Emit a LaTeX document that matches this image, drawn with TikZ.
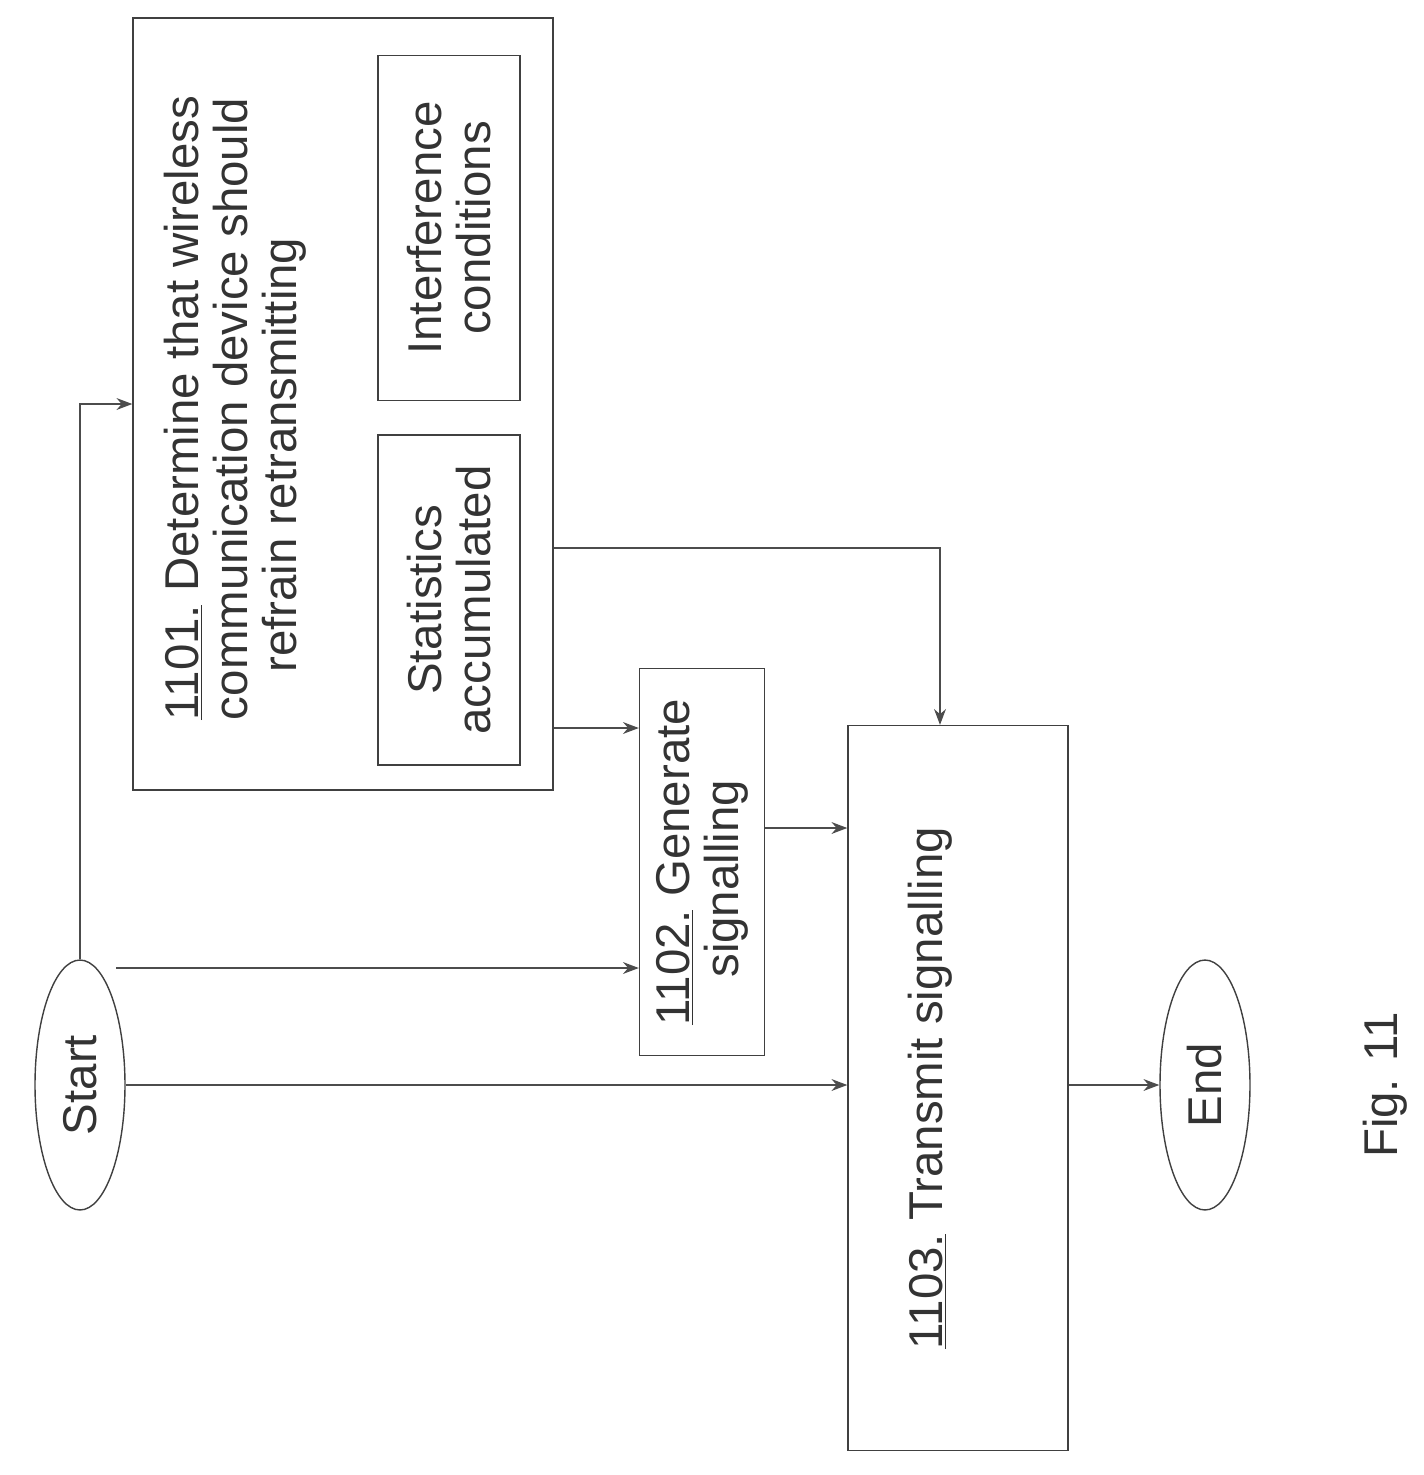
\documentclass[tikz,border=0pt]{standalone}
\usepackage{fontspec}
\setmainfont{Liberation Sans}
\usetikzlibrary{calc,shapes.geometric,arrows.meta}
\begin{document}
\begin{tikzpicture}[x=0.02cm,y=-0.02cm,
    box/.style={draw,rectangle,thick,draw=black!75},
    term/.style={draw,ellipse,thick,draw=black!75,minimum width=1.8cm,minimum height=5cm},
    txt/.style={rotate=90,align=left,font=\fontsize{27}{28}\selectfont,text=black!80},
    line/.style={thick,draw=black!70,-{Stealth[length=9pt]}}]
\useasboundingbox (0,0) rectangle (1424,1475);
\node[box,minimum width=8.4cm,minimum height=15.44cm] (b1101) at (343,404) {};
\node[box,minimum width=2.84cm,minimum height=6.6cm] (stat) at (449,600) {};
\node[box,minimum width=2.84cm,minimum height=6.9cm] (intf) at (449,228) {};
\node[box,minimum width=2.5cm,minimum height=7.74cm] (b1102) at (702,862) {};
\node[box,minimum width=4.4cm,minimum height=14.5cm] (b1103) at (958,1088) {};
\node[term] (start) at (80,1085) {};
\node[term] (end) at (1205,1085) {};
% texts
\node[txt] at (235,408) {\underline{1101.} Determine that wireless\\communication device should\\\quad refrain retransmitting};
\node[txt,align=center] at (449,600) {Statistics\\accumulated};
\node[txt,align=center] at (449,228) {Interference\\conditions};
\node[txt] at (702,862) {\underline{1102.} Generate\\\quad signalling};
\node[txt] at (930,1088) {\underline{1103.} Transmit signalling};
\node[txt] at (80,1085) {Start};
\node[txt] at (1205,1085) {End};
\node[txt] (fig) at (1385,1085) {Fig. 11};
% connector points
\coordinate (p1) at (b1101.east |- 0,728);
\coordinate (p2) at (b1101.east |- 0,548);
\coordinate (p3) at (940,0);
\coordinate (p4) at (b1102.east |- 0,828);
\coordinate (p5) at (116,968);
% connectors
\draw[line] (start.north) |- (b1101.west);
\draw[line] (p5) -- (p5 -| b1102.west);
\draw[line] (start.east) -- (start.east -| b1103.west);
\draw[line] (p1) -- (p1 -| b1102.west);
\draw[line] (p2) -| (p3 |- b1103.north);
\draw[line] (p4) -- (p4 -| b1103.west);
\draw[line] (b1103.east |- end.west) -- (end.west);
\end{tikzpicture}
\end{document}
